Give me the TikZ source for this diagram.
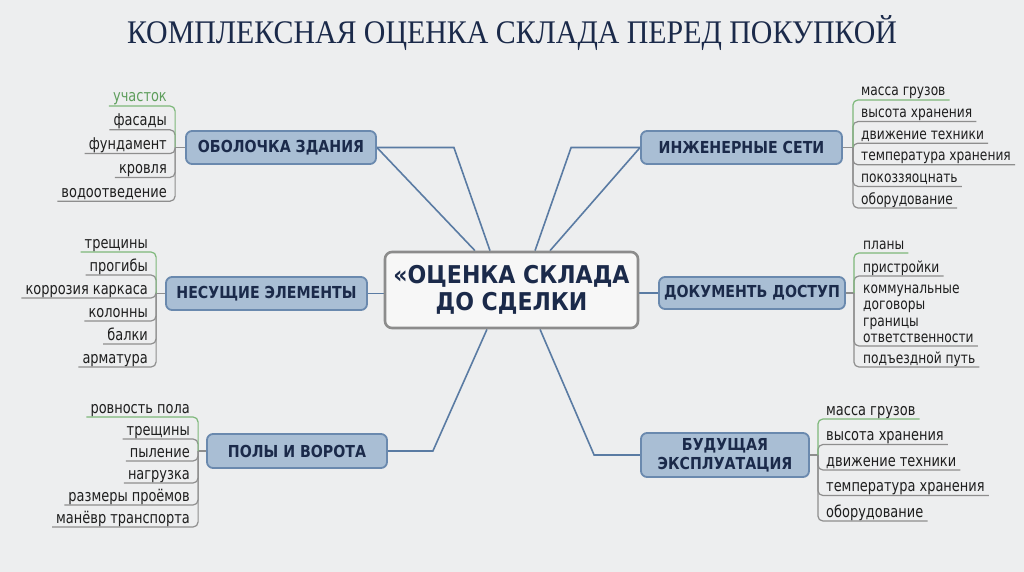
\documentclass[tikz,border=0pt]{standalone}
\usepackage{fontspec}
\setmainfont{DejaVu Sans}
\newfontfamily\leaffont{DejaVu Sans}[FakeStretch=0.8]
\newfontfamily\boxfont{DejaVu Sans}[FakeStretch=0.86]
\newfontfamily\corefont{DejaVu Sans}[FakeStretch=0.9]
\newfontfamily\titlefont{Liberation Serif}[FakeStretch=0.905]
\usepackage{xcolor}
\usetikzlibrary{positioning, backgrounds}

\definecolor{paper}{HTML}{EDEEEF}
\definecolor{navy}{HTML}{1B2A4A}
\definecolor{boxFill}{HTML}{A9BED4}
\definecolor{boxEdge}{HTML}{6A89AE}
\definecolor{coreFill}{HTML}{F7F7F7}
\definecolor{coreEdge}{HTML}{8C8C8C}
\definecolor{trunkBlue}{HTML}{5A7BA3}
\definecolor{twigGray}{HTML}{8E8E8E}
\definecolor{twigGreen}{HTML}{7DB87A}
\definecolor{leafText}{HTML}{1E1E1E}
\definecolor{leafGreen}{HTML}{5E9E5C}

\begin{document}
\begin{tikzpicture}[x=1pt, y=-1pt,
    branch/.style={draw=boxEdge, fill=boxFill, line width=1.8pt, rounded corners=6pt,
      text=navy, font=\boxfont\fontsize{16.5}{19}\selectfont\bfseries, align=center, inner sep=0pt},
    core/.style={draw=coreEdge, fill=coreFill, line width=2.6pt, rounded corners=7pt,
      text=navy, font=\corefont\fontsize{24.5}{27}\selectfont\bfseries, align=center, inner sep=0pt,
      minimum width=253pt, minimum height=76pt},
    trunk/.style={draw=trunkBlue, line width=1.6pt},
    twig/.style={draw=twigGray, line width=1.2pt, rounded corners=5pt},
    twigG/.style={draw=twigGreen, line width=1.2pt, rounded corners=5pt},
    leaf/.style={text=leafText, font=\leaffont\fontsize{16.2}{17}\selectfont, align=left,
      inner xsep=4pt, inner ysep=0.8pt, text height=11pt, text depth=3pt},
    leafS/.style={font=\leaffont\fontsize{15.3}{16}\selectfont},
    leafL/.style={leaf, anchor=south east},
    leafR/.style={leaf, anchor=south west}]

    % Background
    \begin{scope}[on background layer]
      \fill[paper] (0,0) rectangle (1024,572);
    \end{scope}
    \useasboundingbox (0,0) rectangle (1024,572);

    % Title
    \node[text=navy, font=\titlefont\fontsize{33}{36}\selectfont] (title) at (512,33)
      {КОМПЛЕКСНАЯ ОЦЕНКА СКЛАДА ПЕРЕД ПОКУПКОЙ};

    % Central node and branches
    \node[core] (core) at (511.5,290) {«ОЦЕНКА СКЛАДА\\ДО СДЕЛКИ};
    \node[branch, minimum width=190pt, minimum height=33pt] (ob) at (281,147.5) {ОБОЛОЧКА ЗДАНИЯ};
    \node[branch, minimum width=201pt, minimum height=33pt] (inz) at (741.5,147.5) {ИНЖЕНЕРНЫЕ СЕТИ};
    \node[branch, minimum width=201pt, minimum height=33pt] (nes) at (266.5,293.5) {НЕСУЩИЕ ЭЛЕМЕНТЫ};
    \node[branch, minimum width=186pt, minimum height=32pt] (dok) at (752,293) {ДОКУМЕНТЬ ДОСТУП};
    \node[branch, minimum width=180pt, minimum height=34pt] (pol) at (297,451) {ПОЛЫ И ВОРОТА};
    \node[branch, minimum width=168pt, minimum height=44pt] (bud) at (725,455) {БУДУЩАЯ\\ЭКСПЛУАТАЦИЯ};

    % Anchor points on the central node
    \coordinate (cTopA) at ([xshift=-36.5pt]core.north);
    \coordinate (cTopB) at ([xshift=-21.5pt]core.north);
    \coordinate (cTopC) at ([xshift=23.5pt]core.north);
    \coordinate (cTopD) at ([xshift=38.5pt]core.north);
    \coordinate (cBotA) at ([xshift=-24.5pt]core.south);
    \coordinate (cBotB) at ([xshift=28.5pt]core.south);

    % Trunks from the centre, behind the boxes
    \begin{scope}[on background layer]
      \draw[trunk] (ob.east) -- ++(77,0) -- (cTopB);
      \draw[trunk] (ob.east) -- (cTopA);
      \draw[trunk] (inz.west) -- ++(-69,0) -- (cTopC);
      \draw[trunk] (inz.west) -- (cTopD);
      \draw[trunk] (nes.east) -- (nes.east -| core.west);
      \draw[trunk] (dok.west) -- (dok.west -| core.east);
      \draw[trunk] (pol.east) -- ++(45,0) -- (cBotA);
      \draw[trunk] (bud.west) -- ++(-46,0) -- (cBotB);
    \end{scope}

    % Hubs of the leaf brackets
    \coordinate (obHub) at ([xshift=-10pt]ob.west);
    \coordinate (inzHub) at ([xshift=10pt]inz.east);
    \coordinate (nesHub) at ([xshift=-9pt]nes.west);
    \coordinate (dokHub) at ([xshift=8pt]dok.east);
    \coordinate (polHub) at ([xshift=-8pt]pol.west);
    \coordinate (budHub) at ([xshift=8pt]bud.east);
    \begin{scope}[on background layer]
      \draw[twig] (ob.west) -- (obHub);
      \draw[twig] (inz.east) -- (inzHub);
      \draw[twig] (nes.west) -- (nesHub);
      \draw[twig] (dok.east) -- (dokHub);
      \draw[twig] (pol.west) -- (polHub);
      \draw[twig] (bud.east) -- (budHub);
    \end{scope}

    % Leaves: building shell
    \foreach \txt [count=\i] in {фасады, фундамент, кровля, водоотведение} {
      \node[leafL] (ob\i) at (171,{106+23.8*\i}) {\txt};
      \draw[twig] (obHub) |- (ob\i.south west);
    }
    \node[leafL, text=leafGreen] (ob0) at (171,106) {участок};
    \draw[twigG] (obHub) |- (ob0.south west);

    % Leaves: utilities
    \foreach \txt [count=\i] in {высота хранения, движение техники, температура хранения,
        покоззяоцнать, оборудование} {
      \node[leafR, leafS] (inz\i) at (857,{100+21.6*\i}) {\txt};
      \draw[twig] (inzHub) |- (inz\i.south east);
    }
    \node[leafR, leafS] (inz0) at (857,100) {масса грузов};
    \draw[twigG] (inzHub) |- (inz0.south east);

    % Leaves: load-bearing elements
    \foreach \txt [count=\i] in {прогибы, коррозия каркаса, колонны, балки, арматура} {
      \node[leafL] (nes\i) at (152,{252+23*\i}) {\txt};
      \draw[twig] (nesHub) |- (nes\i.south west);
    }
    \node[leafL] (nes0) at (152,252) {трещины};
    \draw[twigG] (nesHub) |- (nes0.south west);

    % Leaves: documents and access
    \node[leafR, leafS] (dok1) at (859,276) {пристройки};
    \draw[twig] (dokHub) |- (dok1.south east);
    \node[leafR, leafS] (dok2) at (859,313) {коммунальные\\договоры};
    \node[leafR, leafS] (dok3) at (859,346) {границы\\ответственности};
    \draw[twig] (dokHub) |- (dok3.south east);
    \node[leafR, leafS] (dok4) at (859,367) {подъездной путь};
    \draw[twig] (dokHub) |- (dok4.south east);
    \node[leafR, leafS] (dok0) at (859,253) {планы};
    \draw[twigG] (dokHub) |- (dok0.south east);

    % Leaves: floors and gates
    \foreach \txt [count=\i] in {трещины, пыление, нагрузка, размеры проёмов, манёвр транспорта} {
      \node[leafL] (pol\i) at (194,{417+22*\i}) {\txt};
      \draw[twig] (polHub) |- (pol\i.south west);
    }
    \node[leafL] (pol0) at (194,417) {ровность пола};
    \draw[twigG] (polHub) |- (pol0.south west);

    % Leaves: future operation
    \foreach \txt [count=\i] in {высота хранения, движение техники, температура хранения,
        оборудование} {
      \node[leafR] (bud\i) at (822,{419+25.5*\i}) {\txt};
      \draw[twig] (budHub) |- (bud\i.south east);
    }
    \node[leafR] (bud0) at (822,419) {масса грузов};
    \draw[twigG] (budHub) |- (bud0.south east);
\end{tikzpicture}
\end{document}
